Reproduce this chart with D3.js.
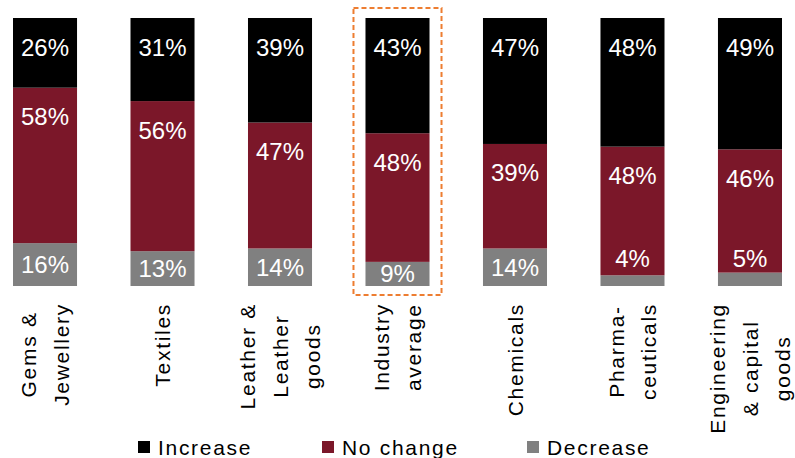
<!DOCTYPE html>
<html><head><meta charset="utf-8">
<script src="https://cdn.jsdelivr.net/npm/d3@7"></script>
<style>body{margin:0;background:#fff}svg{display:block}</style>
</head><body>
<svg id="c" width="795" height="458"></svg>
<script>
const categories = ["Gems & Jewellery","Textiles","Leather & Leather goods","Industry average","Chemicals","Pharma- ceuticals","Engineering & capital goods"];
const categoryLines = [["Gems &","Jewellery"],["Textiles"],["Leather &","Leather","goods"],["Industry","average"],["Chemicals"],["Pharma-","ceuticals"],["Engineering","& capital","goods"]];
const increase = [26,31,39,43,47,48,49];
const noChange = [58,56,47,48,39,48,46];
const decrease = [16,13,14,9,14,4,5];
const seriesNames = ["Increase","No change","Decrease"];
const seriesColors = ["#000000","#7b1729","#808080"];
const highlighted = "Industry average";

const svg = d3.select("#c");
const x = d3.scaleBand().domain(categories).range([13,782]).paddingInner(0.455).paddingOuter(0);
const y = d3.scaleLinear().domain([0,100]).range([286,18]);

const rows = categories.map((c,i)=>({cat:c, Decrease:decrease[i], "No change":noChange[i], Increase:increase[i]}));
const stack = d3.stack().keys(["Decrease","No change","Increase"]);
const layers = stack(rows);
const colorOf = k => seriesColors[seriesNames.indexOf(k)];

const gl = svg.selectAll("g.layer").data(layers).enter().append("g").attr("fill", d=>colorOf(d.key));
gl.selectAll("rect").data(d=>d).enter().append("rect")
  .attr("x", d=>x(d.data.cat)).attr("width", x.bandwidth())
  .attr("y", d=>y(d[1])).attr("height", d=>y(d[0])-y(d[1]));

// labels
layers.forEach(L=>{
  L.forEach(d=>{
    const v = d[1]-d[0];
    const top = y(d[1]), bot = y(d[0]);
    let by;
    if (L.key === "Decrease") {
      by = (bot-top) >= 20 ? (top+bot)/2 + 8.5 : y(0) - 19;
    } else {
      by = top + 37.5;
    }
    svg.append("text").attr("x", x(d.data.cat)+x.bandwidth()/2).attr("y", by)
      .attr("text-anchor","middle").attr("fill","#fff")
      .style("font-family","'Liberation Sans', Arial, sans-serif").style("font-size","24px")
      .text(v+"%");
  });
});

// highlight box
svg.append("rect")
  .attr("x", x(highlighted)-12).attr("width", x.bandwidth()+24)
  .attr("y", y(100)-10).attr("height", y(0)-y(100)+19)
  .attr("fill","none").attr("stroke","#ed7d31").attr("stroke-width",2).attr("stroke-dasharray","5,3");

// category labels
categories.forEach((c,i)=>{
  const lines = categoryLines[i];
  const cx = x(c)+x.bandwidth()/2;
  const g = svg.append("g").attr("transform",`translate(${cx},0) rotate(-90)`);
  const texts = lines.map((ln,j)=> g.append("text")
    .attr("y", (j-(lines.length-1)/2)*32.5).attr("dy","0.36em")
    .attr("text-anchor","middle").attr("fill","#000")
    .style("font-family","'Liberation Sans', Arial, sans-serif").style("font-size","21px")
    .style("letter-spacing","1.7px").text(ln));
  const maxLen = d3.max(texts, t=>t.node().getComputedTextLength());
  texts.forEach(t=>t.attr("x", -(303+maxLen/2)));
});

// legend
const legendX = [138,322,527];
seriesNames.forEach((n,i)=>{
  svg.append("rect").attr("x",legendX[i]).attr("y",441).attr("width",12).attr("height",12).attr("fill",seriesColors[i]);
  svg.append("text").attr("x",legendX[i]+20).attr("y",455)
    .style("font-family","'Liberation Sans', Arial, sans-serif").style("font-size","21px")
    .style("letter-spacing","1.7px").attr("fill","#000").text(n);
});
</script>
</body></html>
